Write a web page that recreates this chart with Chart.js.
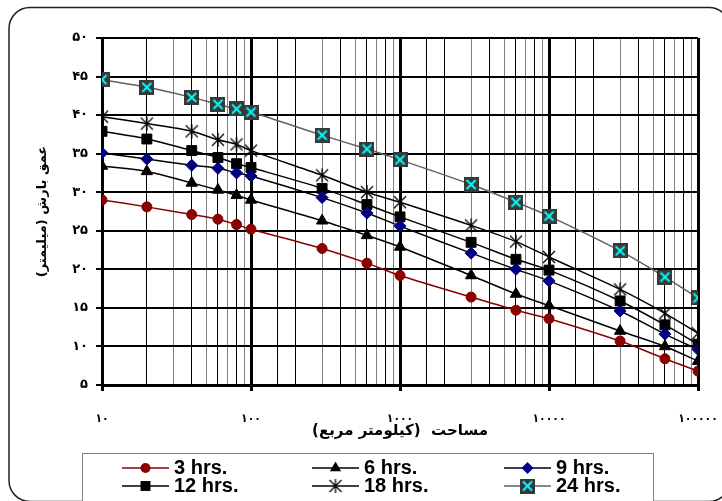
<!DOCTYPE html>
<html>
<head>
<meta charset="utf-8">
<script src="https://cdn.jsdelivr.net/npm/chart.js@4.4.1/dist/chart.umd.min.js"></script>
<style>
  html, body { margin: 0; padding: 0; background: #fff; }
  #wrap { width: 722px; height: 501px; position: relative; }
</style>
</head>
<body>
<div id="wrap"><canvas id="chart" width="722" height="501"></canvas></div>
<script>
// area (km2) on the log x axis
const areas = [10, 20, 40, 60, 80, 100, 300, 600, 1000, 3000, 6000, 10000, 30000, 60000, 100000];

// rainfall depth (mm) per duration
const depth3h  = [29.0, 28.1, 27.1, 26.5, 25.8, 25.2, 22.7, 20.8, 19.2, 16.4, 14.7, 13.6, 10.7, 8.4, 6.8];
const depth6h  = [33.4, 32.7, 31.2, 30.3, 29.6, 29.0, 26.3, 24.4, 22.9, 19.2, 16.8, 15.3, 12.0, 10.0, 8.1];
const depth9h  = [35.1, 34.3, 33.5, 33.1, 32.5, 32.1, 29.3, 27.3, 25.6, 22.1, 20.0, 18.5, 14.6, 11.6, 9.6];
const depth12h = [37.9, 36.9, 35.4, 34.5, 33.7, 33.2, 30.5, 28.4, 26.8, 23.5, 21.3, 19.9, 15.9, 12.8, 10.3];
const depth18h = [39.8, 38.9, 37.9, 36.8, 36.2, 35.4, 32.2, 30.0, 28.7, 25.7, 23.6, 21.6, 17.4, 14.3, 11.7];
const depth24h = [44.6, 43.6, 42.3, 41.4, 40.8, 40.4, 37.4, 35.6, 34.2, 31.0, 28.7, 26.9, 22.4, 19.0, 16.3];

const seriesNames = ['3 hrs.', '6 hrs.', '9 hrs.', '12 hrs.', '18 hrs.', '24 hrs.'];
const xTitle = 'مساحت  (كيلومتر مربع)\u200F';
const yTitle = 'عمق بارش (میلیمتر)\u200F';

const faDigits = '۰۱۲۳۴۵۶۷۸۹';
const toFa = v => String(v).replace(/\d/g, d => faDigits[d]);
const isMajor = v => Math.abs(Math.log10(v) - Math.round(Math.log10(v))) < 1e-9;

// excel-like markers
function starMarker() {
  const c = document.createElement('canvas');
  c.width = 16; c.height = 16;
  const g = c.getContext('2d');
  g.strokeStyle = '#000'; g.lineWidth = 1.3;
  g.beginPath();
  g.moveTo(2, 2); g.lineTo(14, 14);
  g.moveTo(14, 2); g.lineTo(2, 14);
  g.moveTo(8, 1); g.lineTo(8, 15);
  g.stroke();
  return c;
}
function boxXMarker() {
  const c = document.createElement('canvas');
  c.width = 15; c.height = 15;
  const g = c.getContext('2d');
  g.fillStyle = '#383838';
  g.fillRect(0, 0, 15, 15);
  g.strokeStyle = '#00ffff'; g.lineWidth = 2;
  g.beginPath();
  g.moveTo(3, 3); g.lineTo(12, 12);
  g.moveTo(12, 3); g.lineTo(3, 12);
  g.stroke();
  return c;
}
const star = starMarker();
const boxX = boxXMarker();

const pts = arr => areas.map((a, i) => ({ x: a, y: arr[i] }));

const datasets = [
  { label: seriesNames[0], data: pts(depth3h), borderColor: '#8b0000', pointBackgroundColor: '#8b0000', pointBorderColor: '#8b0000', pointStyle: 'circle', pointRadius: 5 },
  { label: seriesNames[1], data: pts(depth6h), borderColor: '#000', pointBackgroundColor: '#000', pointBorderColor: '#000', pointStyle: 'triangle', pointRadius: 6.5 },
  { label: seriesNames[2], data: pts(depth9h), borderColor: '#000', pointBackgroundColor: '#000080', pointBorderColor: '#000080', pointStyle: 'rectRot', pointRadius: 6 },
  { label: seriesNames[3], data: pts(depth12h), borderColor: '#000', pointBackgroundColor: '#000', pointBorderColor: '#000', pointStyle: 'rect', pointRadius: 7 },
  { label: seriesNames[4], data: pts(depth18h), borderColor: '#000', pointBackgroundColor: '#000', pointBorderColor: '#000', pointStyle: star, pointRadius: 7 },
  { label: seriesNames[5], data: pts(depth24h), borderColor: '#606060', pointBackgroundColor: '#383838', pointBorderColor: '#383838', pointStyle: boxX, pointRadius: 7 }
].map(d => Object.assign(d, { borderWidth: 1.5, pointBorderWidth: 1, tension: 0.3, fill: false }));

function drawMarker(ctx, ds, x, y) {
  const s = ds.pointStyle, r = ds.pointRadius;
  if (s instanceof HTMLCanvasElement) {
    ctx.drawImage(s, x - s.width / 2, y - s.height / 2);
    return;
  }
  ctx.fillStyle = ds.pointBackgroundColor;
  ctx.beginPath();
  if (s === 'circle') ctx.arc(x, y, r, 0, Math.PI * 2);
  else if (s === 'triangle') {
    ctx.moveTo(x, y - r);
    ctx.lineTo(x + r * 0.866, y + r / 2);
    ctx.lineTo(x - r * 0.866, y + r / 2);
    ctx.closePath();
  } else if (s === 'rectRot') {
    ctx.moveTo(x, y - r); ctx.lineTo(x + r, y); ctx.lineTo(x, y + r); ctx.lineTo(x - r, y);
    ctx.closePath();
  } else {
    const h = r * Math.SQRT1_2;
    ctx.rect(x - h, y - h, 2 * h, 2 * h);
  }
  ctx.fill();
}

const frame = {
  id: 'frame',
  beforeDraw(chart) {
    const ctx = chart.ctx;
    ctx.save();
    ctx.fillStyle = '#fff';
    ctx.fillRect(0, 0, chart.width, chart.height);
    ctx.strokeStyle = '#222';
    ctx.lineWidth = 1.5;
    ctx.beginPath();
    ctx.roundRect(9, 7.5, 721, 494, 21);
    ctx.stroke();
    ctx.restore();
  },
  afterDraw(chart) {
    const ctx = chart.ctx;
    const cols = [122, 312, 504];
    const rows = [468, 486];
    ctx.save();
    ctx.fillStyle = '#fff';
    ctx.fillRect(82, 453, 571, 60);
    ctx.strokeStyle = '#808080';
    ctx.lineWidth = 1;
    ctx.strokeRect(82.5, 453.5, 571, 60);
    ctx.direction = 'ltr';
    chart.data.datasets.forEach((ds, i) => {
      const x = cols[i % 3], y = rows[Math.floor(i / 3)];
      ctx.beginPath();
      ctx.moveTo(x, y);
      ctx.lineTo(x + 47, y);
      ctx.strokeStyle = ds.borderColor;
      ctx.lineWidth = 1.5;
      ctx.stroke();
      drawMarker(ctx, ds, x + 23.5, y);
      ctx.fillStyle = '#000';
      ctx.font = 'bold 20px "Liberation Sans", Arial, sans-serif';
      ctx.textAlign = 'left';
      ctx.textBaseline = 'alphabetic';
      ctx.fillText(ds.label, x + 52, y + 6);
    });
    ctx.restore();
  }
};

const xTickFont = { family: '"DejaVu Sans Condensed", "DejaVu Sans", sans-serif', size: 12, weight: 'bold' };
const yTickFont = { family: '"DejaVu Sans", sans-serif', size: 13, weight: 'bold' };

new Chart(document.getElementById('chart'), {
  type: 'line',
  data: { datasets },
  options: {
    responsive: false,
    animation: false,
    layout: { padding: { left: 0, top: 38, right: 24, bottom: 56 } },
    plugins: { legend: { display: false }, tooltip: { enabled: false } },
    scales: {
      x: {
        type: 'logarithmic',
        min: 10,
        max: 100000,
        afterFit: s => { s.height = 60; s.paddingLeft = 0; s.paddingRight = 0; },
        ticks: {
          autoSkip: false,
          maxRotation: 0,
          padding: 21,
          color: '#000',
          font: xTickFont,
          callback: v => isMajor(v) ? toFa(v) : ''
        },
        grid: {
          tickLength: 6,
          color: c => {
            const v = c.tick.value;
            if (isMajor(v)) return '#000';
            const m = Math.round(v / Math.pow(10, Math.floor(Math.log10(v) + 1e-9)));
            return m % 2 === 0 ? '#000' : '#808080';
          },
          lineWidth: c => isMajor(c.tick.value) ? 3 : 1,
          tickColor: c => isMajor(c.tick.value) ? '#000' : 'rgba(0,0,0,0)'
        },
        border: { color: '#000', width: 3 },
        title: { display: true, text: xTitle, color: '#000', font: { family: '"DejaVu Sans", sans-serif', size: 15, weight: 'bold' }, padding: { top: 0, bottom: 5 } }
      },
      y: {
        min: 5,
        max: 50,
        afterFit: s => { s.width = 102; s.paddingTop = 0; s.paddingBottom = 0; },
        ticks: { stepSize: 5, padding: 8, color: '#000', font: yTickFont, callback: v => toFa(v) },
        grid: { color: '#000', lineWidth: 2, tickLength: 6 },
        border: { color: '#000', width: 3 },
        title: { display: true, text: yTitle, color: '#000', font: { family: '"DejaVu Sans", sans-serif', size: 13, weight: 'bold' }, padding: { top: 34.6, bottom: 0 } }
      }
    }
  },
  plugins: [frame]
});
</script>
</body>
</html>
